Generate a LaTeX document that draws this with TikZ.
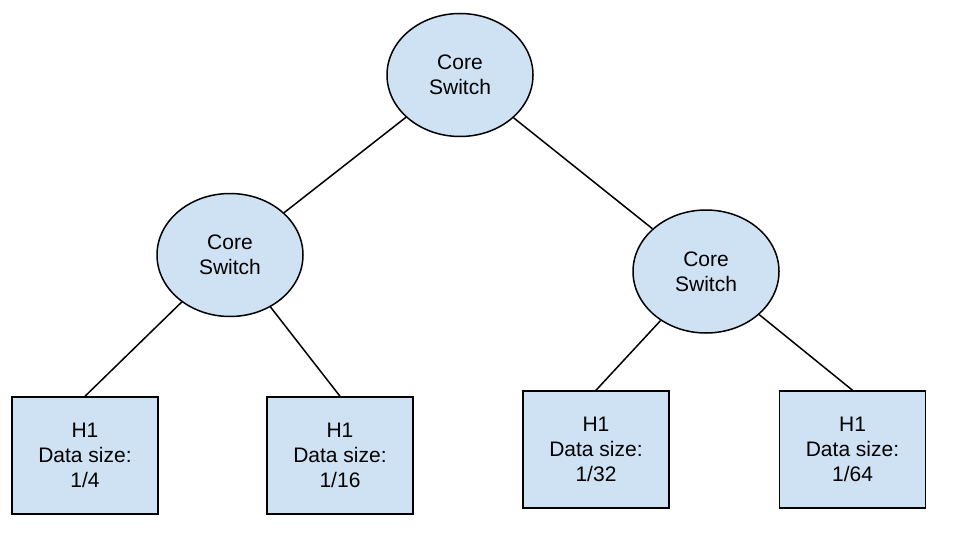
\documentclass[tikz,border=0pt]{standalone}
\usepackage{fontspec}
\setmainfont{Liberation Sans}
\usetikzlibrary{shapes.geometric}
\definecolor{nodefill}{HTML}{CFE2F3}
\begin{document}
\begin{tikzpicture}[x=1pt,y=-1pt,
  switchnode/.style={ellipse,draw=black,line width=1.5pt,fill=nodefill,minimum width=146pt,minimum height=123pt,inner sep=0pt,align=center,font=\fontsize{21}{25}\selectfont},
  hostnode/.style={rectangle,draw=black,line width=1.5pt,fill=nodefill,minimum width=146pt,minimum height=117pt,inner sep=0pt,align=center,font=\fontsize{21}{25}\selectfont},
  link/.style={line width=1.5pt,draw=black}]
\useasboundingbox (0,0) rectangle (976,535);
\node[switchnode] (top) at (460,75) {Core\\Switch};
\node[switchnode] (left) at (230,255) {Core\\Switch};
\node[switchnode] (right) at (706,271.5) {Core\\Switch};
\node[hostnode] (h1) at (85,455.5) {H1\\Data size:\\1/4};
\node[hostnode] (h2) at (340,455.5) {H1\\Data size:\\1/16};
\node[hostnode] (h3) at (596,449.5) {H1\\Data size:\\1/32};
\node[hostnode] (h4) at (852.5,449.5) {H1\\Data size:\\1/64};
\draw[link] (top) -- (left);
\draw[link] (top) -- (right);
\draw[link] (left) -- (h1.north);
\draw[link] (left) -- (h2.north);
\draw[link] (right) -- (h3.north);
\draw[link] (right) -- (h4.north);
\end{tikzpicture}
\end{document}
